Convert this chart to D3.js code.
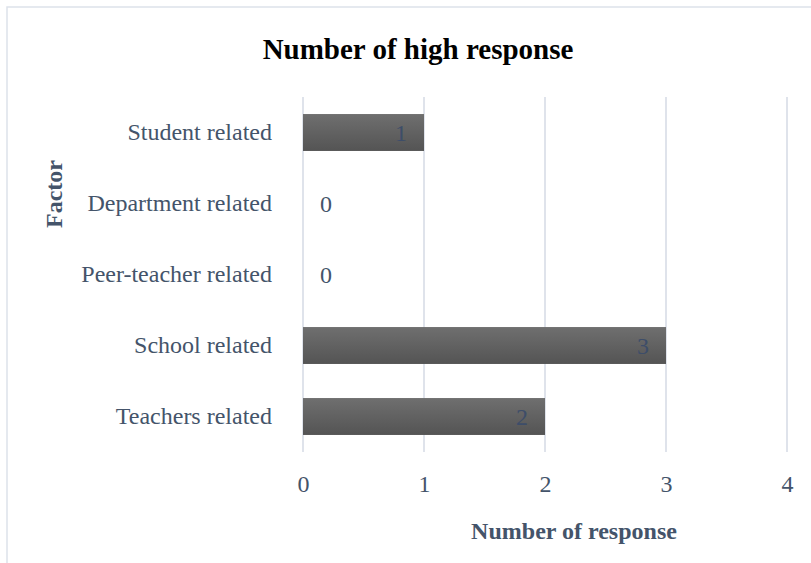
<!DOCTYPE html>
<html>
<head>
<meta charset="utf-8">
<script src="https://cdn.jsdelivr.net/npm/d3@7"></script>
<style>
  body { margin: 0; background: #fff; }
  text { font-family: "Liberation Serif", "Times New Roman", serif; }
</style>
</head>
<body>
<svg width="811" height="563"></svg>
<script>
// data, top to bottom as drawn
var factors = ["Student related", "Department related", "Peer-teacher related", "School related", "Teachers related"];
var responses = [1, 0, 0, 3, 2];
var xTicks = [0, 1, 2, 3, 4];

var data = factors.map((f, i) => ({ factor: f, value: responses[i] }));

var svg = d3.select("svg");
var ink = "#44546a";

// outer frame (only top and left edges fall inside the window)
svg.append("rect")
    .attr("x", 7).attr("y", 7).attr("width", 820).attr("height", 580)
    .attr("fill", "none").attr("stroke", "#dde2ea").attr("stroke-width", 1.5);

var defs = svg.append("defs");
var grad = defs.append("linearGradient").attr("id", "barGrad")
    .attr("x1", 0).attr("y1", 0).attr("x2", 0).attr("y2", 1);
grad.append("stop").attr("offset", "0%").attr("stop-color", "#6f6f6f");
grad.append("stop").attr("offset", "100%").attr("stop-color", "#545454");

var scX = d3.scaleLinear()
    .domain([0, 4])
    .range([303, 787]);
var scY = d3.scaleBand()
    .domain(factors)
    .range([97, 452])
    .paddingInner(0.48)
    .paddingOuter(0.24);

// vertical gridlines
svg.append("g")
    .selectAll("line")
    .data(xTicks).enter().append("line")
    .attr("x1", d => scX(d)).attr("x2", d => scX(d))
    .attr("y1", 97).attr("y2", 452)
    .attr("stroke", "#dfe3eb").attr("stroke-width", 2);

// bars
svg.append("g")
    .selectAll("rect")
    .data(data).enter().append("rect")
    .attr("x", scX(0))
    .attr("y", d => scY(d.factor))
    .attr("width", d => scX(d.value) - scX(0))
    .attr("height", scY.bandwidth())
    .attr("fill", "url(#barGrad)");

// value labels
svg.append("g")
    .selectAll("text")
    .data(data).enter().append("text")
    .attr("x", d => d.value > 0 ? scX(d.value) - 17 : scX(0) + 17)
    .attr("y", d => scY(d.factor) + scY.bandwidth() / 2)
    .attr("dy", "0.35em")
    .attr("text-anchor", d => d.value > 0 ? "end" : "start")
    .attr("font-size", 24)
    .attr("fill", d => d.value > 0 ? "#3d4d69" : ink)
    .text(d => d.value);

// category labels
var yAxis = d3.axisLeft(scY).tickSize(0).tickPadding(31);
var gy = svg.append("g").attr("transform", "translate(" + scX(0) + ",0)").call(yAxis);
gy.select(".domain").remove();
gy.selectAll("text").attr("font-size", 24).attr("fill", ink)
    .attr("font-family", "Liberation Serif, serif");

// x tick labels
var xAxis = d3.axisBottom(scX).tickValues(xTicks).tickSize(0).tickPadding(0)
    .tickFormat(d3.format("d"));
var gx = svg.append("g").attr("transform", "translate(0,474)").call(xAxis);
gx.select(".domain").remove();
gx.selectAll("text").attr("font-size", 24).attr("fill", ink)
    .attr("font-family", "Liberation Serif, serif").attr("dy", "0.75em");

// titles
svg.append("text")
    .attr("x", 418).attr("y", 59)
    .attr("text-anchor", "middle")
    .attr("font-size", 29).attr("font-weight", "bold").attr("fill", "#000")
    .text("Number of high response");

svg.append("text")
    .attr("x", 574).attr("y", 539)
    .attr("text-anchor", "middle")
    .attr("font-size", 24).attr("font-weight", "bold").attr("fill", ink)
    .text("Number of response");

svg.append("text")
    .attr("transform", "translate(62,194) rotate(-90)")
    .attr("text-anchor", "middle")
    .attr("font-size", 24).attr("font-weight", "bold").attr("fill", ink)
    .text("Factor");
</script>
</body>
</html>
